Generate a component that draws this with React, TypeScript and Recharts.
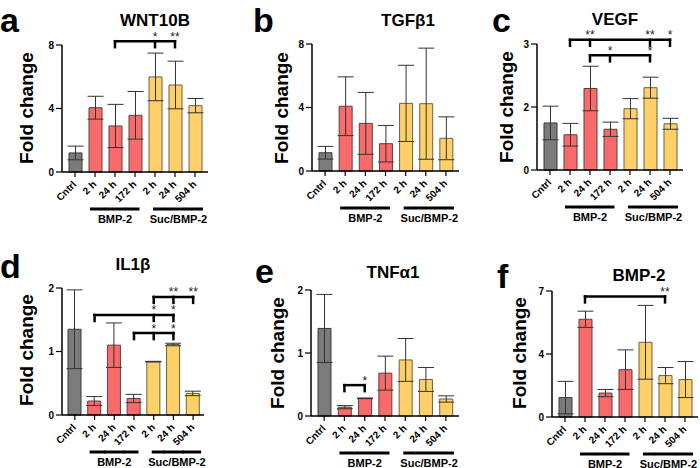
import React from 'react';
import { BarChart, Bar, XAxis, YAxis, ErrorBar, Cell, ReferenceLine, ReferenceDot } from 'recharts';

// ---------- data ----------
const categoryKeys = ['Cntrl', 'B2', 'B24', 'B172', 'S2', 'S24', 'S504'];
const categoryLabels = ['Cntrl', '2 h', '24 h', '172 h', '2 h', '24 h', '504 h'];
const categoryGroups = ['ctrl', 'bmp', 'bmp', 'bmp', 'suc', 'suc', 'suc'];
const groupNames: Record<string, string> = { bmp: 'BMP-2', suc: 'Suc/BMP-2' };

const panelLetters = ['a', 'b', 'c', 'd', 'e', 'f'];
const panelTitles = ['WNT10B', 'TGFβ1', 'VEGF', 'IL1β', 'TNFα1', 'BMP-2'];
const yAxisLabel = 'Fold change';

const wnt10bMean = [1.2, 4.05, 2.9, 3.57, 5.99, 5.48, 4.18];
const wnt10bErr = [0.43, 0.72, 1.36, 1.5, 1.5, 1.5, 0.45];
const tgfb1Mean = [1.15, 4.08, 3.0, 1.72, 4.26, 4.24, 2.06];
const tgfb1Err = [0.4, 1.85, 1.95, 1.15, 2.4, 3.5, 1.35];
const vegfMean = [1.12, 0.84, 1.94, 0.97, 1.46, 1.96, 1.1];
const vegfErr = [0.4, 0.27, 0.53, 0.17, 0.24, 0.25, 0.13];
const il1bMean = [1.35, 0.22, 1.1, 0.26, 0.84, 1.11, 0.34];
const il1bErr = [0.62, 0.07, 0.35, 0.065, 0.005, 0.02, 0.035];
const tnfaMean = [1.39, 0.14, 0.28, 0.68, 0.89, 0.58, 0.27];
const tnfaErr = [0.54, 0.025, 0.005, 0.27, 0.34, 0.19, 0.05];
const bmp2Mean = [1.08, 5.43, 1.33, 2.63, 4.15, 2.3, 2.08];
const bmp2Err = [0.9, 0.45, 0.2, 1.1, 2.05, 0.45, 1.0];

const wnt10bTicks = [0, 4, 8];
const tgfb1Ticks = [0, 4, 8];
const vegfTicks = [0, 1.5, 3];
const il1bTicks = [0, 1, 2];
const tnfaTicks = [0, 1, 2];
const bmp2Ticks = [0, 3.5, 7];

type Bracket = { level: number; from: string; to: string; drops: string[]; stars: [string, string][] };
const wnt10bBrackets: Bracket[] = [
  { level: 8.24, from: 'B24', to: 'S24', drops: ['B24', 'S2', 'S24'], stars: [['S2', '*'], ['S24', '**']] },
];
const tgfb1Brackets: Bracket[] = [];
const vegfBrackets: Bracket[] = [
  { level: 3.1, from: 'B2', to: 'S504', drops: ['B2', 'B24', 'S24', 'S504'], stars: [['B24', '**'], ['S24', '**'], ['S504', '*']] },
  { level: 2.73, from: 'B24', to: 'S24', drops: ['B24', 'B172', 'S24'], stars: [['B172', '*'], ['S24', '*']] },
];
const il1bBrackets: Bracket[] = [
  { level: 1.86, from: 'S2', to: 'S504', drops: ['S2', 'S24', 'S504'], stars: [['S24', '**'], ['S504', '**']] },
  { level: 1.575, from: 'B2', to: 'S24', drops: ['B2', 'S2', 'S24'], stars: [['S2', '*'], ['S24', '*']] },
  { level: 1.29, from: 'B172', to: 'S24', drops: ['B172', 'S2', 'S24'], stars: [['S2', '*'], ['S24', '*']] },
];
const tnfaBrackets: Bracket[] = [
  { level: 0.49, from: 'B2', to: 'B24', drops: ['B2', 'B24'], stars: [['B24', '*']] },
];
const bmp2Brackets: Bracket[] = [
  { level: 6.7, from: 'B2', to: 'S24', drops: ['B2', 'S24'], stars: [['S24', '**']] },
];

const panelMeans = [wnt10bMean, tgfb1Mean, vegfMean, il1bMean, tnfaMean, bmp2Mean];
const panelErrs = [wnt10bErr, tgfb1Err, vegfErr, il1bErr, tnfaErr, bmp2Err];
const panelTicks = [wnt10bTicks, tgfb1Ticks, vegfTicks, il1bTicks, tnfaTicks, bmp2Ticks];
const panelBrackets = [wnt10bBrackets, tgfb1Brackets, vegfBrackets, il1bBrackets, tnfaBrackets, bmp2Brackets];

// ---------- layout / style ----------
const FONT = '"Liberation Sans", Arial, Helvetica, sans-serif';
const YW = 35;
const MT = 40;
const MR = 2;
const XH = 62;
const X_TICK = 5;

const panelLayout = [
  { axisX: 62, yTop: 45, yBottom: 172, xEnd: 208, padR: 3 },
  { axisX: 312, yTop: 44, yBottom: 171, xEnd: 459, padR: 3 },
  { axisX: 537, yTop: 44, yBottom: 170, xEnd: 683, padR: 3 },
  { axisX: 62, yTop: 288, yBottom: 415, xEnd: 204, padR: 1 },
  { axisX: 311, yTop: 290, yBottom: 416, xEnd: 459, padR: 3 },
  { axisX: 552, yTop: 291, yBottom: 417, xEnd: 698, padR: 3 },
];
const textLayout = [
  { letter: [0, 32], title: [155, 25.5], ylab: [33, 108] },
  { letter: [253, 32], title: [408, 26], ylab: [288, 108] },
  { letter: [492, 32], title: [615, 25], ylab: [513, 107] },
  { letter: [0, 278], title: [133, 270], ylab: [33, 350] },
  { letter: [255, 283], title: [393, 277.5], ylab: [284, 353] },
  { letter: [497, 288], title: [639, 280.5], ylab: [526, 353] },
];

const groupFill: Record<string, string> = { ctrl: '#7b7b7b', bmp: '#f96a6a', suc: '#fed067' };
const groupStroke: Record<string, string> = { ctrl: '#3a3a3a', bmp: '#5a4040', suc: '#6a6048' };
const groupLine: Record<string, { start: number; end: number; labelDx: number }> = {
  bmp: { start: -5, end: 4.5, labelDx: 0 },
  suc: { start: -2, end: 8, labelDx: 3.5 },
};

const XTick = (props: any) => {
  const { x, y, payload } = props;
  const i = categoryKeys.indexOf(payload.value);
  const axisY = y - X_TICK;
  const g = categoryGroups[i];
  const tx = x + 2;
  const ty = axisY + 13;
  const els: any[] = [
    <text
      key="t"
      x={tx}
      y={ty}
      transform={`rotate(-45, ${tx}, ${ty})`}
      textAnchor="end"
      fontSize={10}
      fontWeight="bold"
      fontFamily={FONT}
      fill="#000"
    >
      {categoryLabels[i]}
    </text>,
  ];
  if (g !== 'ctrl') {
    const members = categoryGroups.map((gg, j) => (gg === g ? j : -1)).filter((j) => j >= 0);
    const st = groupLine[g];
    const first = members[0] === i;
    const last = members[members.length - 1] === i;
    const x1 = first ? x + st.start : x - 10.3;
    const x2 = last ? x + st.end : x + 10.3;
    els.push(<line key="g" x1={x1} x2={x2} y1={axisY + 37} y2={axisY + 37} stroke="#000" strokeWidth={3} />);
    if (members[Math.floor(members.length / 2)] === i) {
      els.push(
        <text key="gl" x={x + st.labelDx} y={axisY + 50.5} textAnchor="middle" fontSize={11} fontWeight="bold" fontFamily={FONT} fill="#000">
          {groupNames[g]}
        </text>
      );
    }
  }
  return <g>{els}</g>;
};

const bracketElements = (brackets: Bracket[], pi: number) => {
  const out: any[] = [];
  brackets.forEach((b, bi) => {
    out.push(
      <ReferenceLine
        key={`h${pi}-${bi}`}
        segment={[{ x: b.from, y: b.level }, { x: b.to, y: b.level }]}
        ifOverflow="visible"
        stroke="#000"
        strokeWidth={2.5}
        shape={(p: any) => (
          <line x1={p.x1} y1={p.y1} x2={p.x2} y2={p.y2} stroke="#000" strokeWidth={2.5} strokeLinecap="square" />
        )}
      />
    );
    b.drops.forEach((k, di) => {
      out.push(
        <ReferenceLine
          key={`d${pi}-${bi}-${di}`}
          segment={[{ x: k, y: b.level }, { x: k, y: b.level }]}
          ifOverflow="visible"
          stroke="#000"
          shape={(p: any) => (
            <line x1={p.x1} y1={p.y1} x2={p.x1} y2={p.y1 + 6} stroke="#000" strokeWidth={2.5} strokeLinecap="square" />
          )}
        />
      );
    });
    b.stars.forEach(([k, s], si) => {
      out.push(
        <ReferenceDot
          key={`s${pi}-${bi}-${si}`}
          x={k}
          y={b.level}
          r={0}
          ifOverflow="visible"
          shape={(p: any) => (
            <text x={p.cx} y={p.cy - 0.5} textAnchor="middle" fontSize={12} fontFamily={FONT} fill="#222" stroke="none">
              {s}
            </text>
          )}
        />
      );
    });
  });
  return out;
};

const Panel = ({ pi }: { pi: number }) => {
  const L = panelLayout[pi];
  const ticks = panelTicks[pi];
  const data = categoryKeys.map((k, i) => ({ key: k, mean: panelMeans[pi][i], err: panelErrs[pi][i] }));
  const width = L.xEnd - L.axisX + YW + MR;
  const height = L.yBottom - L.yTop + MT + XH;
  return (
    <div style={{ position: 'absolute', left: L.axisX - YW, top: L.yTop - MT, width, height }}>
      <BarChart width={width} height={height} data={data} margin={{ top: MT, right: MR, bottom: 0, left: 0 }}>
        <XAxis
          dataKey="key"
          interval={0}
          height={XH}
          tickSize={X_TICK}
          tickMargin={0}
          padding={{ left: 3, right: L.padR }}
          axisLine={{ stroke: '#000', strokeWidth: 1.5 }}
          tickLine={{ stroke: '#000', strokeWidth: 1.2 }}
          tick={<XTick />}
        />
        <YAxis
          width={YW}
          domain={[0, ticks[ticks.length - 1]]}
          ticks={ticks}
          interval={0}
          tickSize={6}
          tickMargin={2}
          axisLine={{ stroke: '#000', strokeWidth: 1.5 }}
          tickLine={{ stroke: '#000', strokeWidth: 1.2 }}
          tickFormatter={(v: number) => String(Math.round(v))}
          tick={{ fontSize: 10, fontWeight: 'bold', fill: '#000', fontFamily: FONT }}
        />
        <Bar dataKey="mean" barSize={13} strokeWidth={1} isAnimationActive={false}>
          {data.map((d, i) => (
            <Cell key={d.key} fill={groupFill[categoryGroups[i]]} stroke={groupStroke[categoryGroups[i]]} />
          ))}
          <ErrorBar dataKey="err" width={8} stroke="#333" strokeWidth={1} isAnimationActive={false} />
        </Bar>
        {bracketElements(panelBrackets[pi], pi)}
      </BarChart>
    </div>
  );
};

export default function App() {
  return (
    <div style={{ position: 'absolute', left: 0, top: 0, width: 700, height: 468, overflow: 'hidden', background: '#fff' }}>
      <svg width={700} height={468} style={{ position: 'absolute', left: 0, top: 0 }}>
        {textLayout.map((t, i) => (
          <g key={i} fontFamily={FONT} fontWeight="bold" fill="#000">
            <text x={t.letter[0]} y={t.letter[1]} fontSize={34}>
              {panelLetters[i]}
            </text>
            <text x={t.title[0]} y={t.title[1]} fontSize={17} textAnchor="middle">
              {panelTitles[i]}
            </text>
            <text
              x={t.ylab[0]}
              y={t.ylab[1]}
              fontSize={19}
              textAnchor="middle"
              transform={`rotate(-90, ${t.ylab[0]}, ${t.ylab[1]})`}
            >
              {yAxisLabel}
            </text>
          </g>
        ))}
      </svg>
      {panelLayout.map((_, i) => (
        <Panel key={i} pi={i} />
      ))}
    </div>
  );
}
